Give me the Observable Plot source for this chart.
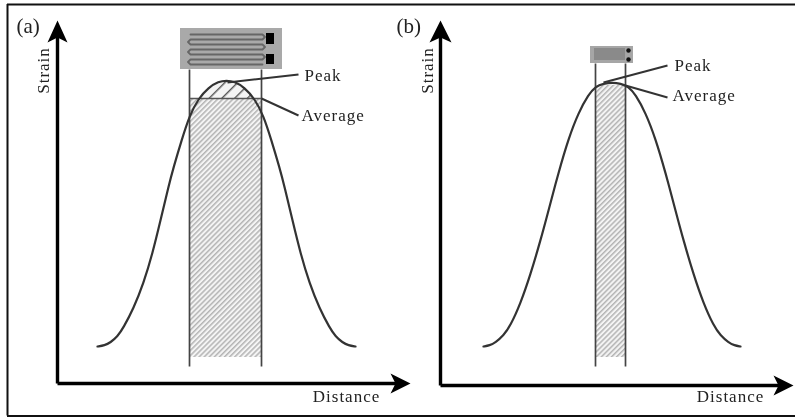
<!DOCTYPE html>
<html><head><meta charset="utf-8">
<script src="https://cdn.jsdelivr.net/npm/d3@7"></script>
<script src="https://cdn.jsdelivr.net/npm/@observablehq/plot@0.6"></script>
<style>html,body{margin:0;padding:0;background:#fff}svg{display:block;filter:blur(0.5px)}</style>
</head><body><div id="chart"></div>
<script>
// Curves: distance, strain
const curveAX = [97,104,110,117,123,133,143,152,160,168,173,181,189,198,208,218,226,234,244,254,263,271,279,284,292,300,309,319,329,335,342,348,355];
const curveAY = [346,345,342,336,327,308,283,253,220,186,167,140,115,98,87,81,80,81,87,98,115,140,167,186,220,253,283,308,327,336,342,345,346];
const curveBX = [483,489,495,503,510,520,530,540,548,558,568,578,588,595,603,612,620,628,635,645,655,665,675,683,693,703,713,720,728,734,740];
const curveBY = [346,345,342,335,325,303,274,240,210,172,138,112,94,86,83,82,83,86,94,112,138,172,210,240,274,303,325,335,342,345,346];

const capAX = [198,208,218,226,234,244,254];
const capAY = [98,87,82,81,82,87,98];

const axisX = [[57,383,400,383],[440,385,783,385]];
const axisY = [[57,383,57,30],[440,385,440,30]];
const headUp = [[57,20,67,42,57,37,47,42],[440,20,451,42,440,37,429,42]];
const headRight = [[410,383,390,373,395,383,390,393],[793,385,773,375,778,385,773,395]];

const sensorEdges = [189,261,595,625];
const sensorTops = [69,69,63,63];
const sensorBottom = 366;
const average = [[189,98,261,98]];
const hatched = [[189,261,98,357],[595,625,85,357]];

const leaders = [[227,82,298,74],[261,98,298,115],[603,82,667,65],[625,85,667,97]];
const labels = ["Peak","Average","Peak","Average"];
const labelX = [304,301,674,672];
const labelY = [75,115,65,95];
const panels = ["(a)","(b)"];
const panelX = [16,396];
const strainX = [43,427];
const distanceX = [346,730];
const distanceY = [396,396];

const gaugeRects = [[180,282,28,69,"#a9a9a9"],[266,274,33,44,"#000"],[266,274,54,64,"#000"],[590,633,46,63,"#a6a6a6"],[594,625,48,60,"#8a8a8a"]];
const gaugeDots = [[628,50],[628,59]];
const gridRows = [34,39,44,49,54,59,64];

const serp = [];
gridRows.forEach((r,i)=>{
  const lr = i%2===0 ? [190,262] : [262,190];
  serp.push({x:lr[0],y:r},{x:lr[1],y:r});
  if(i<gridRows.length-1){
    serp.push({x:lr[1]+(lr[1]>200?2.5:-2.5),y:r+2.5});
  }
});
const poly = (a)=>[0,2,4,6].map(i=>({x:a[i],y:a[i+1]}));
const font = "'Liberation Serif','Times New Roman',serif";
const ink = "#333";
const txt = {fontFamily:font,fill:"#222",textAnchor:"start",lineAnchor:"middle"};

const plot = Plot.plot({
  width:795,height:417,margin:0,
  x:{type:"linear",domain:[0,795],range:[0,795],axis:null},
  y:{type:"linear",domain:[0,417],range:[0,417],axis:null},
  marks:[
    // defs
    ()=>{
      const g = d3.create("svg:defs");
      const mk=(id,s,c,w)=>{
        const p=g.append("pattern").attr("id",id).attr("width",s).attr("height",s).attr("patternUnits","userSpaceOnUse").attr("patternTransform","rotate(45)");
        p.append("rect").attr("width",s).attr("height",s).attr("fill","#f4f4f4");
        p.append("rect").attr("width",w).attr("height",s).attr("fill",c);
      };
      mk("fine",3.6,"#b4b4b4",1.5);
      mk("coarse",9,"#555",1.4);
      return g.node();
    },
    // frame
    Plot.ruleY([4],{x1:7,x2:795,stroke:"#111",strokeWidth:2}),
    Plot.ruleY([415.5],{x1:7,x2:795,stroke:"#111",strokeWidth:2}),
    Plot.ruleX([7],{y1:4,y2:415.5,stroke:"#111",strokeWidth:2}),
    // hatched areas
    Plot.rect(hatched,{x1:d=>d[0],x2:d=>d[1],y1:d=>d[2],y2:d=>d[3],fill:"url(#fine)"}),
    Plot.line(capAX.map((x,i)=>({x,y:capAY[i]})),{x:"x",y:"y",curve:"catmull-rom",fill:"url(#coarse)",stroke:"none"}),
    // sensor edges
    Plot.link(sensorEdges,{x1:d=>d,x2:d=>d,y1:(d,i)=>sensorTops[i],y2:sensorBottom,stroke:"#444",strokeWidth:1.7}),
    Plot.link(average,{x1:d=>d[0],y1:d=>d[1],x2:d=>d[2],y2:d=>d[3],stroke:"#555",strokeWidth:1.6}),
    // curves
    Plot.line(curveAX.map((x,i)=>({x,y:curveAY[i]})),{x:"x",y:"y",curve:"basis",stroke:ink,strokeWidth:2.2}),
    Plot.line(curveBX.map((x,i)=>({x,y:curveBY[i]})),{x:"x",y:"y",curve:"basis",stroke:ink,strokeWidth:2.2}),
    // leaders
    Plot.link(leaders,{x1:d=>d[0],y1:d=>d[1],x2:d=>d[2],y2:d=>d[3],stroke:ink,strokeWidth:2}),
    // axes
    Plot.link([...axisX,...axisY],{x1:d=>d[0],y1:d=>d[1],x2:d=>d[2],y2:d=>d[3],stroke:"#000",strokeWidth:3.4}),
    ...[...headUp,...headRight].map(h=>Plot.line(poly(h),{x:"x",y:"y",fill:"#000",stroke:"none"})),
    // gauges
    Plot.rect(gaugeRects,{x1:d=>d[0],x2:d=>d[1],y1:d=>d[2],y2:d=>d[3],fill:d=>d[4]}),
    Plot.line(serp,{x:"x",y:"y",stroke:"#666",strokeWidth:1.8,strokeLinejoin:"round"}),
    Plot.dot(gaugeDots,{x:d=>d[0],y:d=>d[1],r:2.2,fill:"#111"}),
    // text
    Plot.text(labels,{x:(d,i)=>labelX[i],y:(d,i)=>labelY[i],text:d=>d,fontSize:17,...txt}),
    Plot.text(panels,{x:(d,i)=>panelX[i],y:26,text:d=>d,fontSize:21,...txt}),
    Plot.text(strainX,{x:d=>d,y:70,text:()=>"Strain",rotate:-90,fontSize:17,...txt,textAnchor:"middle"}),
    Plot.text(distanceX,{x:d=>d,y:(d,i)=>distanceY[i],text:()=>"Distance",fontSize:17,...txt,textAnchor:"middle"})
  ]
});
plot.querySelectorAll("text").forEach(t=>t.style.letterSpacing="1px");
plot.querySelectorAll("text").forEach(t=>{ if(/^\(/.test(t.textContent)) t.style.letterSpacing="0"; });
document.getElementById("chart").append(plot);
</script></body></html>
